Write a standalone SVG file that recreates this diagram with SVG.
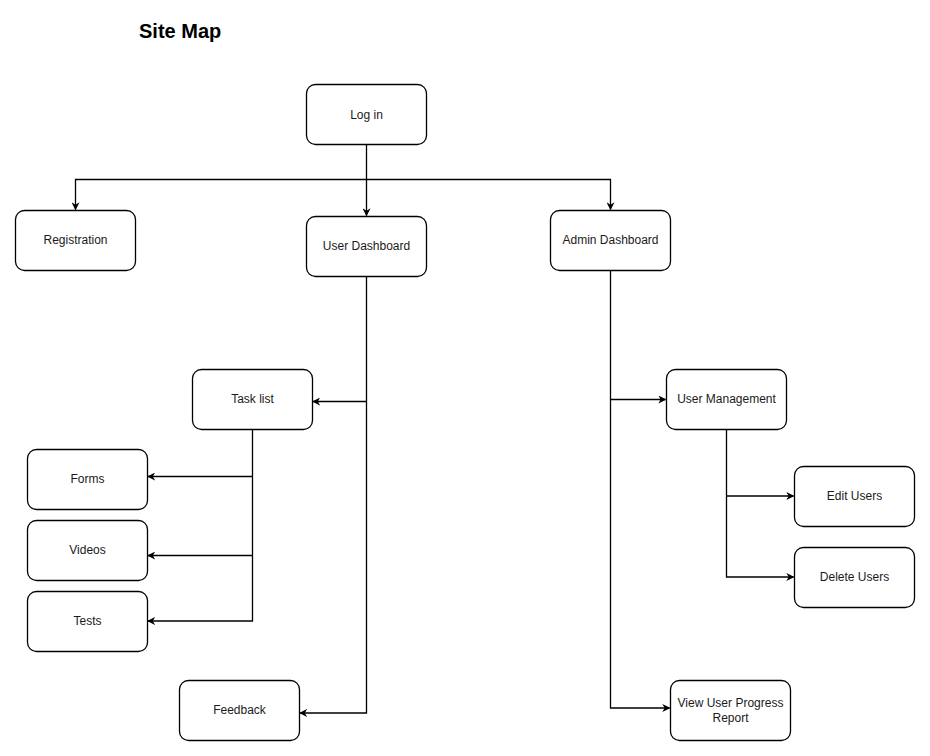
<svg xmlns="http://www.w3.org/2000/svg" width="930" height="756" viewBox="0 0 930 756">
<defs>
<marker id="arr" viewBox="0 0 10 10" refX="9" refY="5" markerWidth="8" markerHeight="8" markerUnits="userSpaceOnUse" orient="auto">
<path d="M0,0 L10,5 L0,10 L3,5 Z" fill="#000"/>
</marker>
</defs>
<style>
.n rect{fill:#fff;stroke:#000;stroke-width:1.3}
.n text{font-family:"Liberation Sans",Arial,sans-serif;font-size:12px;fill:#1a1a1a;text-anchor:middle}
.c path{fill:none;stroke:#000;stroke-width:1.3;marker-end:url(#arr)}
.c path.nm{marker-end:none}
</style>
<rect width="930" height="756" fill="#fff"/>
<text x="139" y="38" font-family="Liberation Sans,Arial,sans-serif" font-size="20" font-weight="bold" fill="#000">Site Map</text>
<g class="c" id="connectors">
<path d="M366.5,144.5 V215.5"/>
<path d="M366.5,179.5 H75.5 V209.5"/>
<path d="M366.5,179.5 H610.5 V209.5"/>
<path d="M366.5,276.5 V713 H300"/>
<path d="M366.5,401.5 H313"/>
<path d="M252.5,429.5 V621 H148"/>
<path d="M252.5,476.5 H148"/>
<path d="M252.5,555.5 H148"/>
<path d="M610.5,270.5 V708 H669.5"/>
<path d="M610.5,399.5 H665.5"/>
<path d="M726.5,429.5 V577 H793.5"/>
<path d="M726.5,496 H793.5"/>
</g>
<g class="n" id="login"><rect x="306.5" y="84.5" width="120" height="60" rx="9"/><text x="366.5" y="118.5">Log in</text></g>
<g class="n" id="registration"><rect x="15.5" y="210.5" width="120" height="60" rx="9"/><text x="75.5" y="244">Registration</text></g>
<g class="n" id="userdash"><rect x="306.5" y="216.5" width="120" height="60" rx="9"/><text x="366.5" y="250">User Dashboard</text></g>
<g class="n" id="admindash"><rect x="550.5" y="210.5" width="120" height="60" rx="9"/><text x="610.5" y="244">Admin Dashboard</text></g>
<g class="n" id="tasklist"><rect x="192.5" y="369.5" width="120" height="60" rx="9"/><text x="252.5" y="403">Task list</text></g>
<g class="n" id="usermgmt"><rect x="666.5" y="369.5" width="120" height="60" rx="9"/><text x="726.5" y="403">User Management</text></g>
<g class="n" id="forms"><rect x="27.5" y="449.5" width="120" height="60" rx="9"/><text x="87.5" y="483">Forms</text></g>
<g class="n" id="videos"><rect x="27.5" y="520.5" width="120" height="60" rx="9"/><text x="87.5" y="554">Videos</text></g>
<g class="n" id="tests"><rect x="27.5" y="591.5" width="120" height="60" rx="9"/><text x="87.5" y="625">Tests</text></g>
<g class="n" id="feedback"><rect x="179.5" y="680.5" width="120" height="60" rx="9"/><text x="239.5" y="714">Feedback</text></g>
<g class="n" id="editusers"><rect x="794.5" y="466.5" width="120" height="60" rx="9"/><text x="854.5" y="500">Edit Users</text></g>
<g class="n" id="deleteusers"><rect x="794.5" y="547.5" width="120" height="60" rx="9"/><text x="854.5" y="581">Delete Users</text></g>
<g class="n" id="progress"><rect x="670.5" y="680.5" width="120" height="60" rx="9"/><text x="730.5" y="706.5">View User Progress</text><text x="730.5" y="721.5">Report</text></g>
</svg>
